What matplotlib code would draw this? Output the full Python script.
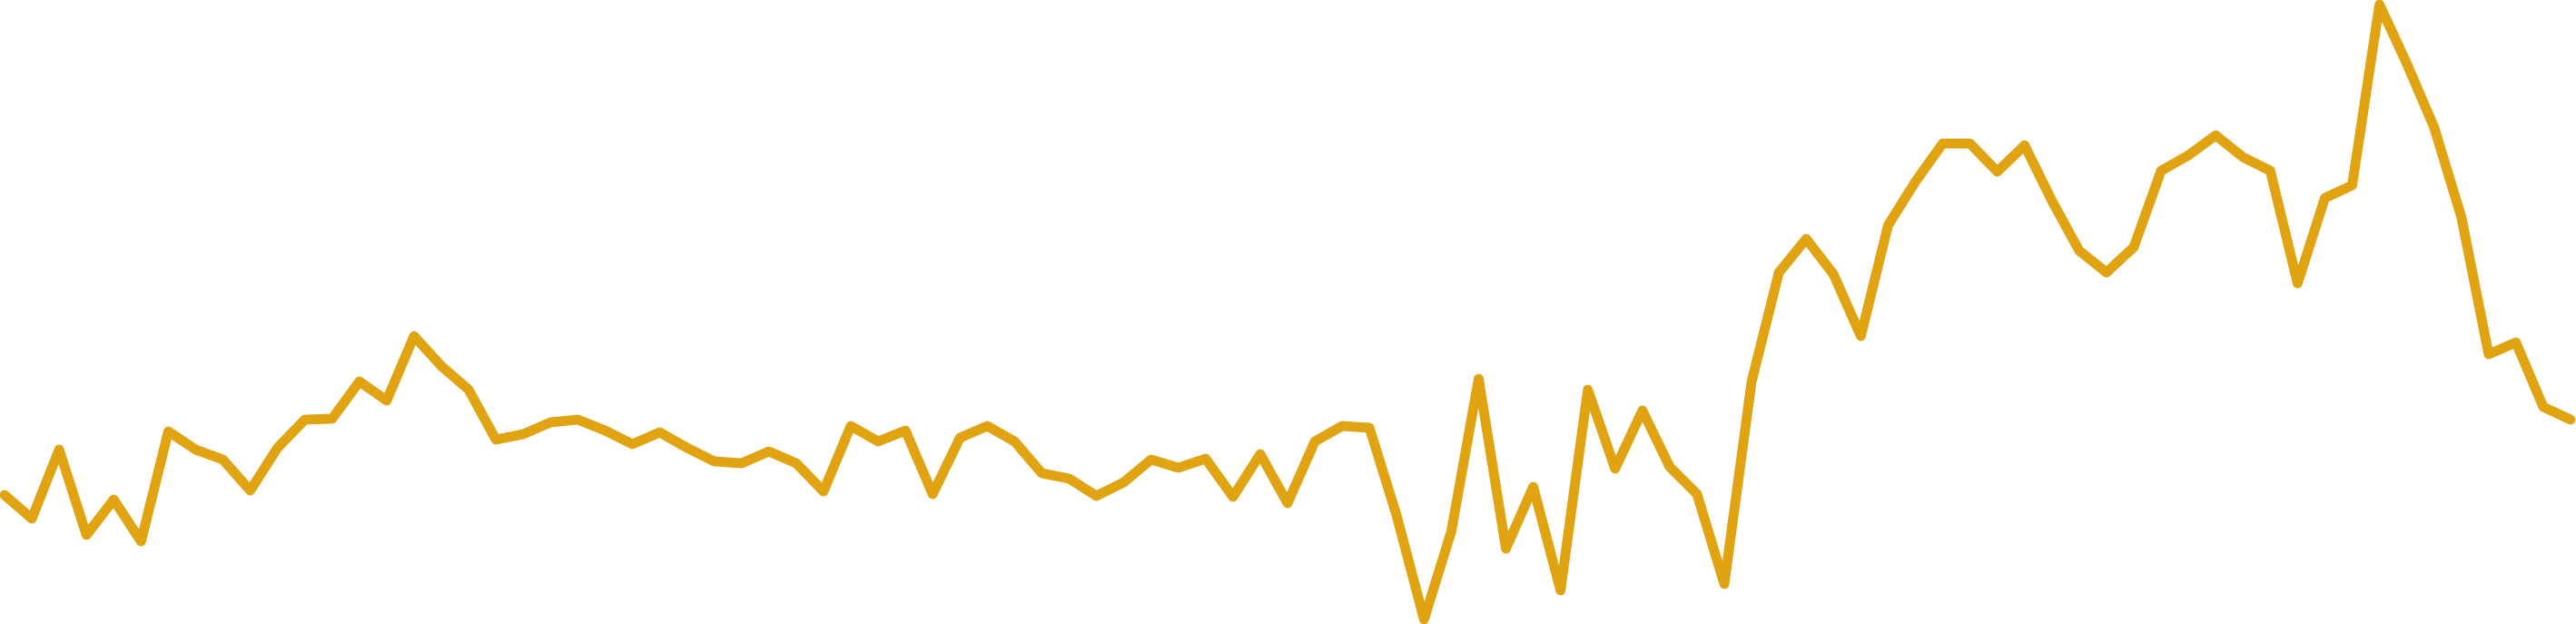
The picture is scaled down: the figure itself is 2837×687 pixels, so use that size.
import matplotlib
matplotlib.use("Agg")
import matplotlib.pyplot as plt
import numpy as np

y_top = [545, 571, 495, 589, 550, 596, 475, 495, 506, 540,
         493, 462, 461, 420, 441, 370, 403, 429, 484, 478,
         465, 462, 474, 489, 476, 493, 508, 510, 497, 510,
         541, 469, 486, 474, 544, 482, 469, 486, 521, 527,
         546, 531, 506, 515, 505, 547, 500, 554, 486, 469,
         471, 568, 682, 585, 417, 604, 536, 650, 429, 516,
         452, 514, 544, 643, 420, 300, 263, 302, 370, 248,
         200, 158, 158, 189, 160, 221, 276, 300, 272, 188,
         171, 149, 173, 188, 312, 218, 204, 5, 70, 140,
         239, 390, 377, 448, 462]
values = [687 - v for v in y_top]
index = list(range(len(values)))

W, H = 2837, 687
fig = plt.figure(figsize=(W / 100, H / 100), dpi=100)
ax = fig.add_axes([0, 0, 1, 1])
ax.plot(index, values, color="#E0A312", linewidth=7.8,
        solid_joinstyle="round", solid_capstyle="round")
step = (2831 - 5) / (len(values) - 1)
ax.set_xlim(-5 / step, (W - 5) / step)
ax.set_ylim(0, H)
ax.axis("off")
fig.savefig("out.png", dpi=100, facecolor="white")
